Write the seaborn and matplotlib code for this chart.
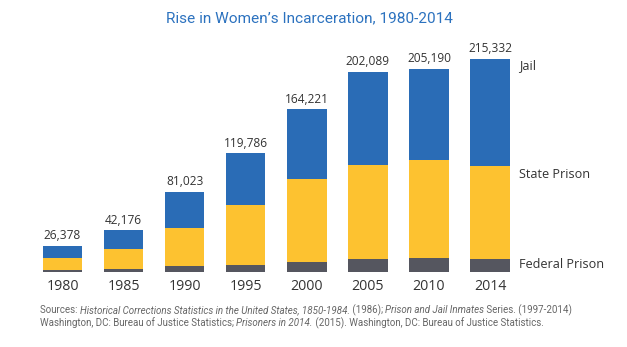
import matplotlib
matplotlib.use("Agg")
import matplotlib.pyplot as plt
import seaborn as sns
import pandas as pd
import numpy as np

years = ['1980', '1985', '1990', '1995', '2000', '2005', '2010', '2014']
federal = [2300, 3000, 5600, 7000, 10400, 12800, 14100, 12800]
state = [11800, 19900, 38700, 61000, 83100, 95400, 98900, 94100]
totals = [26378, 42176, 81023, 119786, 164221, 202089, 205190, 215332]
series_labels = ['Jail', 'State Prison', 'Federal Prison']

BLUE = '#2a6cb6'
YELLOW = '#fdc230'
GRAY = '#55565f'
TXT = '#333333'

sns.set_style('white')
plt.rcParams['font.family'] = ['Open Sans', 'DejaVu Sans']

W, H = 627, 347
fig = plt.figure(figsize=(W / 100, H / 100), dpi=100)
L, R = 32, 520.6
base, top = 272, 44
ax = fig.add_axes([L / W, (H - base) / H, (R - L) / W, (base - top) / H])

df = pd.DataFrame({'year': years,
                   'total': totals,
                   'fs': np.add(federal, state),
                   'federal': federal})

sns.barplot(data=df, x='year', y='total', color=BLUE, saturation=1, width=0.645, ax=ax, linewidth=0)
sns.barplot(data=df, x='year', y='fs', color=YELLOW, saturation=1, width=0.645, ax=ax, linewidth=0)
sns.barplot(data=df, x='year', y='federal', color=GRAY, saturation=1, width=0.645, ax=ax, linewidth=0)

ax.set_xlim(-0.5, 7.5)
ax.set_ylim(0, (base - top) * 1009)
for i, t in enumerate(totals):
    ax.annotate(f'{t:,}', (i, t), xytext=(0, 2.5), textcoords='offset points',
                ha='center', va='bottom', fontsize=8.6, color=TXT)

ax.set_xlabel('')
ax.set_ylabel('')
ax.set_yticks([])
ax.tick_params(axis='x', length=0, pad=5, labelsize=10.2, labelcolor=TXT)
sns.despine(ax=ax, left=True, bottom=True)

# series labels on the right
for lab, ypx in zip(series_labels, [66, 174, 265]):
    fig.text(519 / W, (H - ypx) / H, lab, fontsize=9.1, color=TXT, va='center', ha='left')

fig.text(309 / W, (H - 18) / H, "Rise in Women\u2019s Incarceration, 1980-2014",
         family=['Roboto', 'DejaVu Sans'], fontsize=11.1, color='#2c72bf',
         ha='center', va='center')

# sources, mixing upright and italic pieces
src_lines = [
    [("Sources: ", 'normal'), ("Historical Corrections Statistics in the United States, 1850-1984.", 'italic'),
     (" (1986); ", 'normal'), ("Prison and Jail Inmates", 'italic'), (" Series. (1997-2014)", 'normal')],
    [("Washington, DC: Bureau of Justice Statistics; ", 'normal'), ("Prisoners in 2014.", 'italic'),
     (" (2015). Washington, DC: Bureau of Justice Statistics.", 'normal')],
]
fig.canvas.draw()
renderer = fig.canvas.get_renderer()
for line, ypx in zip(src_lines, [310, 323]):
    x = 40
    for txt, st in line:
        t = fig.text(x / W, (H - ypx) / H, txt, family=['Roboto', 'DejaVu Sans'],
                     fontsize=7.0, style=st, color='#666666', va='center', ha='left')
        bb = t.get_window_extent(renderer=renderer)
        x += bb.width

fig.savefig('out.png', dpi=100)
